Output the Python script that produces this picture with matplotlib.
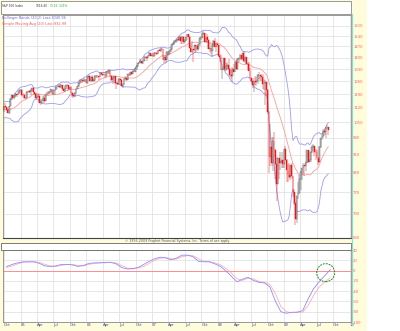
import numpy as np
import pandas as pd
import matplotlib
matplotlib.use("Agg")
import matplotlib.pyplot as plt
import matplotlib.dates as mdates
from matplotlib.patches import Rectangle, Ellipse
from matplotlib.lines import Line2D

# ---------------- data ----------------
warmup_close = [1134.6, 1140.6, 1107.3, 1098.7, 1095.7, 1093.6, 1120.7, 1122.5, 1136.5, 1135.0,
                1134.4, 1125.4, 1112.8, 1101.4, 1096.8, 1101.7, 1063.9, 1064.8, 1098.4]
first_week = "2004-08-27"

week_close = [
    1107.8, 1113.6, 1123.9, 1128.6, 1110.1, 1131.5, 1122.1, 1108.2, 1095.7, 1130.2, 1166.2, 1184.2, 1170.3, 1182.7, 1191.2, 1188.0, 1194.2, 1210.1, 1211.9,
    1186.2, 1184.5, 1167.9, 1171.4, 1203.0, 1205.3, 1201.6, 1211.4, 1222.1, 1200.1, 1190.2, 1171.4, 1172.9, 1181.2, 1142.6, 1152.1, 1156.9, 1171.4, 1154.1, 1189.3, 1198.8, 1196.0, 1200.9, 1217.0, 1190.7, 1211.9, 1211.9, 1227.9, 1229.0, 1234.2, 1226.4, 1237.8, 1219.7, 1205.1, 1218.0, 1241.5, 1237.9, 1215.3, 1228.8, 1195.9, 1186.6, 1179.6, 1198.4, 1220.1, 1234.7, 1248.3, 1268.3, 1265.1, 1259.4, 1267.3, 1268.7, 1248.3,
    1285.5, 1287.6, 1261.5, 1283.7, 1264.0, 1267.0, 1287.2, 1289.4, 1287.2, 1281.4, 1307.3, 1302.9, 1294.8, 1295.5, 1289.1, 1311.3, 1310.6, 1325.8, 1291.2, 1267.0, 1280.2, 1288.2, 1252.3, 1251.5, 1244.5, 1270.2, 1265.5, 1236.2, 1240.3, 1278.6, 1279.4, 1266.7, 1302.3, 1295.1, 1311.0, 1298.9, 1319.7, 1314.8, 1335.9, 1349.6, 1365.6, 1368.6, 1377.3, 1364.3, 1380.9, 1401.2, 1401.0, 1396.7, 1409.8, 1427.1, 1410.8, 1418.3,
    1409.7, 1430.7, 1430.5, 1422.2, 1448.4, 1438.1, 1455.5, 1451.2, 1387.2, 1402.8, 1386.9, 1436.1, 1420.9, 1443.8, 1452.9, 1484.4, 1494.1, 1505.6, 1505.9, 1522.8, 1515.7, 1536.3, 1507.7, 1532.9, 1502.6, 1503.4, 1530.4, 1552.5, 1534.1, 1459.0, 1433.1, 1453.6, 1445.9, 1479.4, 1474.0, 1453.6, 1484.3, 1525.8, 1526.8, 1557.6, 1561.8, 1500.6, 1535.3, 1509.7, 1453.7, 1458.7, 1440.7, 1481.1, 1504.7, 1468.0, 1484.5, 1478.5,
    1411.6, 1401.0, 1325.2, 1330.6, 1395.4, 1331.3, 1350.0, 1353.1, 1330.6, 1293.4, 1288.1, 1329.5, 1315.2, 1370.4, 1332.8, 1390.3, 1397.8, 1413.9, 1388.3, 1425.4, 1375.9, 1400.4, 1360.7, 1360.0, 1317.9, 1278.4, 1262.9, 1239.5, 1260.7, 1257.8, 1260.3, 1296.3, 1298.2, 1292.2, 1282.8, 1242.3, 1251.7, 1255.1, 1213.3, 1099.2, 899.2, 940.6, 876.8, 968.8, 931.0, 873.3, 800.0, 896.2, 876.1, 879.7, 887.9, 872.8,
    931.8, 890.4, 850.1, 832.0, 825.9, 868.6, 826.8, 770.1, 735.1, 683.4, 756.6, 768.5, 815.9, 842.5, 856.6, 869.6, 866.2, 877.5, 929.2, 882.9, 887.0, 919.1, 940.1, 946.2, 921.2, 918.9, 896.4, 879.1, 940.4, 979.3, 987.5, 1010.5, 1004.1, 1026.1, 1028.9, 1016.4,
]
week_high = [
    1109.7, 1122.5, 1125.3, 1130.6, 1131.5, 1131.6, 1142.1, 1125.4, 1114.5, 1131.4, 1167.9, 1185.0, 1185.6, 1183.0, 1197.5, 1192.4, 1207.0, 1211.1, 1217.3,
    1217.8, 1193.7, 1189.2, 1177.6, 1204.4, 1208.4, 1212.4, 1212.0, 1224.8, 1229.1, 1201.1, 1194.6, 1189.8, 1191.8, 1190.3, 1162.3, 1162.6, 1178.9, 1178.7, 1191.1, 1199.6, 1205.6, 1206.0, 1219.6, 1219.6, 1214.4, 1212.0, 1233.2, 1236.6, 1245.2, 1245.9, 1242.6, 1237.8, 1223.6, 1231.8, 1242.0, 1244.4, 1237.9, 1229.6, 1233.3, 1199.7, 1197.3, 1204.0, 1224.7, 1235.7, 1249.6, 1268.8, 1272.9, 1270.0, 1275.8, 1272.1, 1270.5,
    1288.1, 1294.9, 1292.3, 1286.0, 1294.2, 1274.6, 1294.7, 1292.7, 1297.6, 1288.1, 1310.9, 1310.9, 1306.2, 1310.4, 1300.0, 1318.2, 1317.2, 1326.7, 1326.7, 1294.8, 1285.6, 1290.7, 1290.1, 1257.9, 1258.6, 1276.3, 1280.4, 1273.3, 1247.9, 1280.0, 1287.7, 1284.1, 1303.0, 1306.7, 1312.0, 1314.7, 1321.9, 1328.5, 1339.2, 1353.8, 1366.6, 1372.9, 1389.5, 1377.9, 1388.2, 1401.6, 1407.9, 1402.7, 1415.3, 1431.6, 1427.7, 1427.0,
    1429.4, 1431.6, 1435.3, 1440.7, 1449.3, 1453.2, 1461.6, 1461.6, 1456.9, 1410.2, 1415.9, 1438.9, 1437.8, 1445.0, 1453.1, 1484.7, 1498.0, 1510.3, 1513.8, 1522.9, 1529.9, 1540.6, 1540.1, 1538.7, 1540.5, 1516.4, 1532.4, 1555.1, 1555.9, 1541.2, 1488.3, 1503.9, 1456.7, 1481.5, 1481.1, 1481.5, 1485.0, 1530.0, 1538.7, 1561.9, 1576.1, 1563.9, 1536.0, 1552.8, 1520.5, 1492.1, 1458.8, 1488.9, 1510.6, 1523.6, 1485.4, 1498.9,
    1479.0, 1420.0, 1417.8, 1345.0, 1396.0, 1395.7, 1368.3, 1370.0, 1388.3, 1335.9, 1321.7, 1341.5, 1359.7, 1380.9, 1378.8, 1395.9, 1399.2, 1422.7, 1415.4, 1425.4, 1440.2, 1406.3, 1404.1, 1369.8, 1370.6, 1333.6, 1285.4, 1278.5, 1262.3, 1290.7, 1284.7, 1302.9, 1313.2, 1298.2, 1300.7, 1303.0, 1274.4, 1265.0, 1256.0, 1215.0, 1102.0, 1044.3, 985.4, 984.4, 1007.5, 933.0, 898.8, 896.3, 897.0, 918.9, 918.9, 888.0,
    934.7, 943.9, 891.0, 871.5, 877.9, 870.8, 877.0, 827.0, 780.1, 736.0, 758.3, 804.5, 833.0, 845.6, 858.0, 875.6, 868.3, 883.6, 930.2, 930.2, 924.6, 920.0, 951.7, 956.2, 946.3, 934.9, 930.2, 898.7, 944.0, 979.8, 996.7, 1018.0, 1012.6, 1027.6, 1039.5, 1030.0,
]
week_low = [
    1092.8, 1098.8, 1114.4, 1114.3, 1108.1, 1101.3, 1120.2, 1102.3, 1094.1, 1090.2, 1127.6, 1161.2, 1169.2, 1164.0, 1173.3, 1173.4, 1185.8, 1190.4, 1203.1,
    1181.9, 1175.0, 1167.2, 1163.8, 1170.6, 1194.7, 1197.8, 1184.2, 1203.6, 1199.7, 1185.2, 1163.7, 1165.4, 1172.7, 1141.9, 1136.2, 1137.5, 1155.0, 1146.2, 1153.6, 1185.3, 1188.0, 1192.2, 1199.9, 1189.5, 1185.6, 1187.6, 1211.6, 1218.6, 1227.3, 1224.0, 1221.1, 1217.3, 1204.6, 1201.1, 1217.1, 1227.6, 1205.4, 1213.7, 1191.1, 1175.4, 1168.2, 1176.5, 1190.3, 1216.5, 1226.4, 1246.6, 1252.8, 1252.8, 1255.5, 1254.2, 1248.3,
    1245.7, 1280.8, 1260.9, 1258.2, 1261.0, 1253.6, 1260.7, 1281.0, 1277.7, 1269.4, 1281.4, 1296.4, 1291.3, 1293.7, 1280.7, 1284.1, 1301.3, 1303.5, 1290.4, 1259.0, 1245.3, 1259.1, 1243.6, 1219.3, 1237.2, 1236.9, 1260.6, 1235.0, 1224.5, 1238.0, 1265.4, 1261.0, 1266.7, 1290.9, 1292.0, 1294.2, 1298.9, 1313.0, 1310.9, 1327.1, 1344.2, 1358.9, 1365.5, 1360.5, 1361.0, 1378.0, 1394.6, 1377.8, 1394.0, 1407.9, 1409.2, 1410.4,
    1404.0, 1405.4, 1420.6, 1416.9, 1420.1, 1437.8, 1433.6, 1448.0, 1386.9, 1364.0, 1363.4, 1385.0, 1411.0, 1416.4, 1433.2, 1445.5, 1477.4, 1482.4, 1491.4, 1498.2, 1505.2, 1507.6, 1487.9, 1488.5, 1500.3, 1484.2, 1503.4, 1510.6, 1532.1, 1458.9, 1432.7, 1429.1, 1370.6, 1430.5, 1432.0, 1449.7, 1439.3, 1476.4, 1516.0, 1526.7, 1546.7, 1500.3, 1490.0, 1492.0, 1450.9, 1435.1, 1419.6, 1406.1, 1469.9, 1467.8, 1435.7, 1468.2,
    1411.2, 1370.6, 1325.0, 1270.1, 1322.5, 1316.7, 1321.3, 1321.7, 1325.0, 1282.8, 1274.3, 1257.0, 1312.9, 1312.0, 1328.6, 1324.4, 1370.1, 1384.9, 1385.3, 1386.2, 1373.1, 1364.1, 1359.9, 1327.0, 1316.0, 1277.8, 1257.7, 1225.4, 1200.4, 1240.3, 1233.9, 1247.4, 1274.9, 1261.6, 1262.1, 1217.3, 1212.4, 1133.5, 1179.3, 1088.0, 839.8, 865.8, 865.6, 845.3, 899.7, 818.7, 741.0, 799.9, 815.7, 851.4, 857.3, 857.1,
    857.7, 888.3, 804.5, 804.9, 822.0, 812.9, 818.4, 754.3, 729.6, 666.8, 672.9, 747.0, 766.1, 779.8, 814.5, 837.0, 826.8, 846.3, 875.6, 878.9, 880.1, 880.9, 916.7, 926.4, 903.8, 888.9, 895.7, 869.3, 875.4, 936.0, 969.5, 980.0, 991.0, 978.5, 1018.0, 991.0,
]

# lower oscillator, read monthly (mid-month) from the picture
osc_first_month = "2004-09-15"
osc_fast = [8, 12, 15, 17, 17, 17, 14, 9, 8, 9, 12, 12, 11, 8, 10, 14,
            15, 15, 16, 16, 13, 6, 3, 4, 6, 12, 18, 23,
            26, 25, 21, 24, 30, 30, 27, 18, 17, 17, 13, 8,
            -1, -11, -22, -17, -13, -19, -23, -24, -32, -60, -80, -83,
            -81, -81, -78, -55, -35, -22, -10, 2]
osc_slow = [6, 9, 13, 16, 17, 17, 16, 12, 9, 8, 10, 12, 12, 10, 9, 12,
            14, 15, 15, 16, 15, 10, 5, 3, 5, 8, 14, 20,
            24, 25, 23, 22, 27, 29, 29, 23, 18, 17, 15, 11,
            4, -5, -16, -19, -15, -16, -21, -23, -27, -45, -70, -80,
            -82, -81, -81, -68, -48, -32, -22, -14]

price_ticks = [630, 700, 770, 840, 910, 980, 1050, 1120, 1190, 1260, 1330, 1400, 1470, 1540, 1610]
osc_ticks = [-100, -80, -60, -40, -20, 0, 20, 40]
quarter_dates = pd.date_range("2004-10-01", "2010-01-01", freq="QS-JAN")
quarter_labels = ["Oct", "05", "Apr", "Jul", "Oct", "06", "Apr", "Jul", "Oct", "07", "Apr", "Jul",
                  "Oct", "08", "Apr", "Jul", "Oct", "09", "Apr", "Jul", "Oct", "10"]

# ---------------- figure ----------------
W, H = 400, 331
fig = plt.figure(figsize=(4.0, 3.31), dpi=100)
fig.patch.set_facecolor("white")

def fx(px):
    return px / W

def fy(py):
    return 1 - py / H

YEL = "#fffcdc"
fig.add_artist(Rectangle((0, 0), fx(367), 1, transform=fig.transFigure,
                         facecolor=YEL, edgecolor="none", zorder=-5))

ax = fig.add_axes([fx(3), fy(238), fx(348), fy(14.5) - fy(238)])
ax2 = fig.add_axes([fx(3), fy(322), fx(348), fy(250) - fy(322)])

x_left = mdates.date2num(pd.Timestamp("2004-09-25"))
x_right = mdates.date2num(pd.Timestamp("2010-01-08"))
qx = mdates.date2num(quarter_dates)

# candles
dates = pd.date_range(first_week, periods=len(week_close), freq="W-FRI")
xd = mdates.date2num(dates)
c = np.array(week_close)
o = np.array([warmup_close[-1]] + week_close[:-1])
hi = np.array(week_high)
lo = np.array(week_low)
up = c >= o

ax.vlines(xd[up], lo[up], hi[up], color="#555555", lw=0.35, zorder=3)
ax.vlines(xd[~up], lo[~up], hi[~up], color="#ff1010", lw=0.35, zorder=3)
ax.bar(xd[up], (c - o)[up], bottom=o[up], width=4.6, color="#d0d0d0",
       edgecolor="#444444", lw=0.25, zorder=4)
ax.bar(xd[~up], (o - c)[~up], bottom=c[~up], width=4.6, color="#ff1010",
       edgecolor="#ff1010", lw=0.25, zorder=4)

# Bollinger (20,2) and SMA(20)
allc = pd.Series(warmup_close + week_close)
mid = allc.rolling(20).mean().to_numpy()[len(warmup_close):]
sd = allc.rolling(20).std(ddof=0).to_numpy()[len(warmup_close):]
ax.plot(xd, mid + 2 * sd, color="#9c9cf2", lw=0.6, zorder=2)
ax.plot(xd, mid - 2 * sd, color="#9c9cf2", lw=0.6, zorder=2)
ax.plot(xd, mid, color="#ff9c9c", lw=0.6, zorder=2)

ax.set_yscale("log")
ax.set_ylim(629, 1694)
ax.set_xlim(x_left, x_right)
ax.set_yticks(price_ticks, labels=[str(v) for v in price_ticks])
ax.minorticks_off()
ax.yaxis.set_ticks_position("right")
ax.tick_params(axis="y", length=0, pad=1.5, labelsize=2.7, labelcolor="#ff6060")
ax.set_xticks(qx)
ax.tick_params(axis="x", length=0, labelbottom=False)
ax.grid(True, color="#dddddd", lw=0.5, zorder=0)
ax.set_axisbelow(True)
for s in ax.spines.values():
    s.set_color("#888888")
    s.set_linewidth(0.6)
ax.spines["bottom"].set_color("#444444")
ax.spines["bottom"].set_linewidth(0.8)

# lower oscillator
odates = pd.date_range(osc_first_month, periods=len(osc_fast), freq="MS") + pd.Timedelta(days=14)
ox = mdates.date2num(odates)
ax2.axhline(0, color="#ff8080", lw=0.6, zorder=2)
ax2.plot(ox, osc_slow, color="#ffb0b0", lw=0.6, zorder=3)
ax2.plot(ox, osc_fast, color="#8c8cff", lw=0.6, zorder=4)
ax2.set_ylim(-100, 40)
ax2.set_xlim(x_left, x_right)
ax2.set_yticks(osc_ticks, labels=[str(v) for v in osc_ticks])
ax2.yaxis.set_ticks_position("right")
ax2.tick_params(axis="y", length=0, pad=1.5, labelsize=2.7, labelcolor="#ff6060")
ax2.set_xticks(qx, labels=quarter_labels)
ax2.tick_params(axis="x", length=0, pad=1.0, labelsize=2.7, labelcolor="#334488")
for lab in ax2.get_xticklabels():
    lab.set_ha("left")
ax2.grid(True, color="#dddddd", lw=0.5, zorder=0)
ax2.set_axisbelow(True)
for s in ax2.spines.values():
    s.set_color("#888888")
    s.set_linewidth(0.6)

# header boxes and texts
fig.add_artist(Rectangle((fx(0.5), fy(14)), fx(350.5), fy(0.5) - fy(14), transform=fig.transFigure,
                         facecolor="white", edgecolor="#888888", lw=0.6, zorder=1))
fig.add_artist(Rectangle((fx(1), fy(250)), fx(350), fy(243) - fy(250), transform=fig.transFigure,
                         facecolor="white", edgecolor="#666666", lw=0.6, zorder=1))
fig.text(fx(2.5), fy(6), "S&P 500 Index", fontsize=2.1, color="#333333", va="center", zorder=5)
fig.text(fx(36), fy(6), "1016.40", fontsize=2.1, color="#333333", va="center", zorder=5)
fig.text(fx(50), fy(6), "13.16", fontsize=2.1, color="#22aa22", va="center", zorder=5)
fig.text(fx(59), fy(6), "1.31%", fontsize=2.1, color="#22aa22", va="center", zorder=5)
fig.text(fx(2.5), fy(17.7), "Bollinger Bands (20,2) Last:1040.96", fontsize=2.5,
         color="#6a6ad8", va="center", zorder=5)
fig.text(fx(2.5), fy(23.7), "Simple Moving Avg (20) Last:932.99", fontsize=2.5,
         color="#ff5050", va="center", zorder=5)
fig.text(fx(177), fy(240.7), "\u00a9 1996-2009 Prophet Financial Systems, Inc. Terms of use apply.",
         fontsize=2.3, color="#555555", ha="center", va="center", zorder=5)

# right cyan border and green circle
fig.add_artist(Line2D([fx(351.5), fx(351.5)], [fy(14), fy(325)], transform=fig.transFigure,
                      color="#88dddd", lw=0.9, zorder=6))
fig.add_artist(Ellipse((fx(325.7), fy(272.7)), 18 / W, 18 / H, transform=fig.transFigure,
                       fill=False, edgecolor="#2a8a2a", lw=0.7, linestyle=(0, (2, 1)), zorder=7))

fig.savefig("out.png", dpi=100, facecolor=fig.get_facecolor())
